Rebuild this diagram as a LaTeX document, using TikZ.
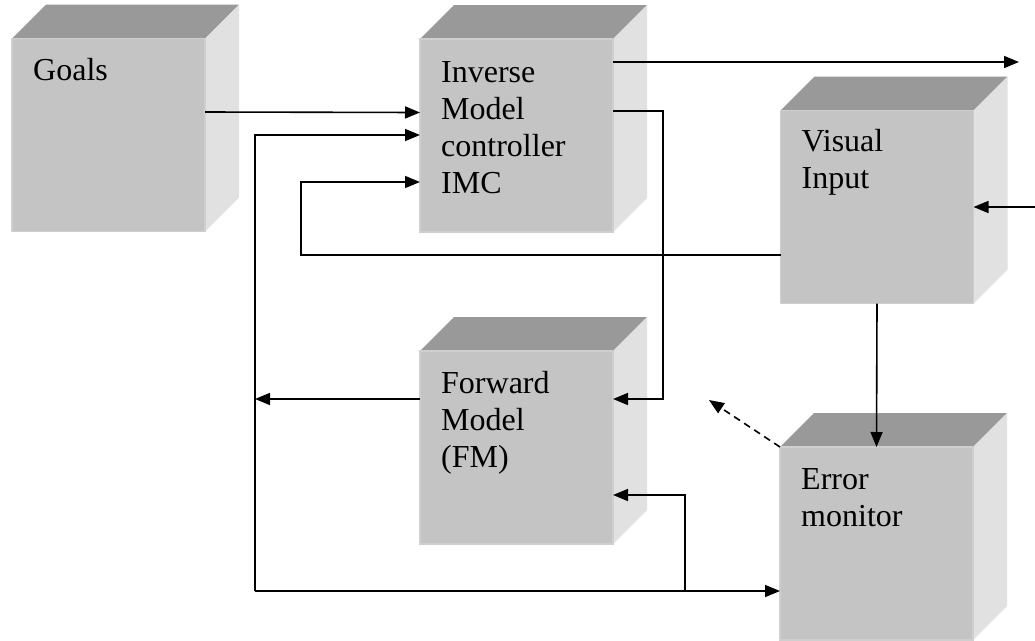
\documentclass[tikz,border=0pt]{standalone}
\usepackage{fontspec}
\setmainfont{Liberation Serif}
\usetikzlibrary{arrows.meta}
\definecolor{frontface}{HTML}{C4C4C4}
\definecolor{rimface}{HTML}{CFCFCF}
\definecolor{topface}{HTML}{999999}
\definecolor{sideface}{HTML}{E1E1E1}
\pgfdeclarelayer{paper}
\pgfdeclarelayer{faces}
\pgfsetlayers{paper,faces,main}
% top and right faces of a block, drawn behind the front face
\newcommand\blockfaces[1]{%
  \begin{pgfonlayer}{faces}
    \fill[topface] (#1.north west) -- ++(34,-34) -- ++(193,0) -- (#1.north east) -- cycle;
    \fill[sideface] (#1.north east) -- (#1.south east) -- ++(34,-34) -- ++(0,-193) -- cycle;
  \end{pgfonlayer}}
\tikzset{
  block/.style={rectangle, minimum width=193pt, minimum height=193pt,
    fill=frontface, draw=rimface, line width=1.2pt, inner sep=0pt, outer sep=0pt},
  blocktext/.style={anchor=north west, inner sep=0pt, align=left,
    font=\fontsize{32}{37}\selectfont},
  arr/.style={line width=1.6pt, -{Triangle[length=15pt,width=12pt]}},
}
\begin{document}
\begin{tikzpicture}[x=1pt,y=-1pt]
\begin{pgfonlayer}{paper}
  \fill[white] (0,0) rectangle (1035,640);
\end{pgfonlayer}
\useasboundingbox (0,0) rectangle (1035,640);

% blocks
\node[block] (goals) at (108.5,135) {};
\node[block] (inv)   at (516.5,135.5) {};
\node[block] (vis)   at (877,207) {};
\node[block] (fm)    at (516.5,447.5) {};
\node[block] (err)   at (876.5,543.5) {};
\foreach \b in {goals,inv,vis,fm,err} {\blockfaces{\b}}

% labels
\node[blocktext] (goalsT) at ([shift={(21pt,-16pt)}]goals.north west) {\strut Goals};
\node[blocktext] (invT)   at ([shift={(21pt,-17pt)}]inv.north west) {\strut Inverse\\Model\\controller\\IMC};
\node[blocktext] (visT)   at ([shift={(21pt,-15pt)}]vis.north west) {\strut Visual\\Input};
\node[blocktext] (fmT)    at ([shift={(21pt,-16pt)}]fm.north west) {\strut Forward\\Model\\(FM)};
\node[blocktext] (errT)   at ([shift={(21pt,-16pt)}]err.north west) {\strut Error\\monitor};

% routing points
\coordinate (busNW) at (255,135);
\coordinate (busFM) at (255,399);
\coordinate (busSW) at (255,591);
\coordinate (tapS)  at (685,591);
\coordinate (tapN)  at (685,495);
\coordinate (loopNW) at (301,182);
\coordinate (loopSW) at (301,255);
\coordinate (fbNE)  at (663,111);
\coordinate (fbSE)  at (663,399);
\coordinate (out)   at (1019,62);
\coordinate (vin)   at (1035,207);
\coordinate (dash)  at (709,400);

% connectors
\draw[arr] ([yshift=23pt]goals.east) -- ([yshift=23pt]inv.west);
\draw[arr] (busSW) -- (busNW) -- (inv.west |- busNW);
\draw[arr] (vis.west |- loopSW) -- (loopSW) -- (loopNW) -- (inv.west |- loopNW);
\draw[arr] (inv.east |- out) -- (out);
\draw[arr] (inv.east |- fbNE) -- (fbNE) -- (fbSE) -- (fm.east |- fbSE);
\draw[arr] (fm.west |- busFM) -- (busFM);
\draw[arr] (busSW) -- (err.west |- busSW);
\draw[arr] (tapS) -- (tapN) -- (fm.east |- tapN);
\draw[arr] (vin) -- (vis.east);
\draw[arr] (vis.south) -- (err.north);
\draw[arr, dash pattern=on 7pt off 5pt] (err.north west) -- (dash);
\end{tikzpicture}
\end{document}
